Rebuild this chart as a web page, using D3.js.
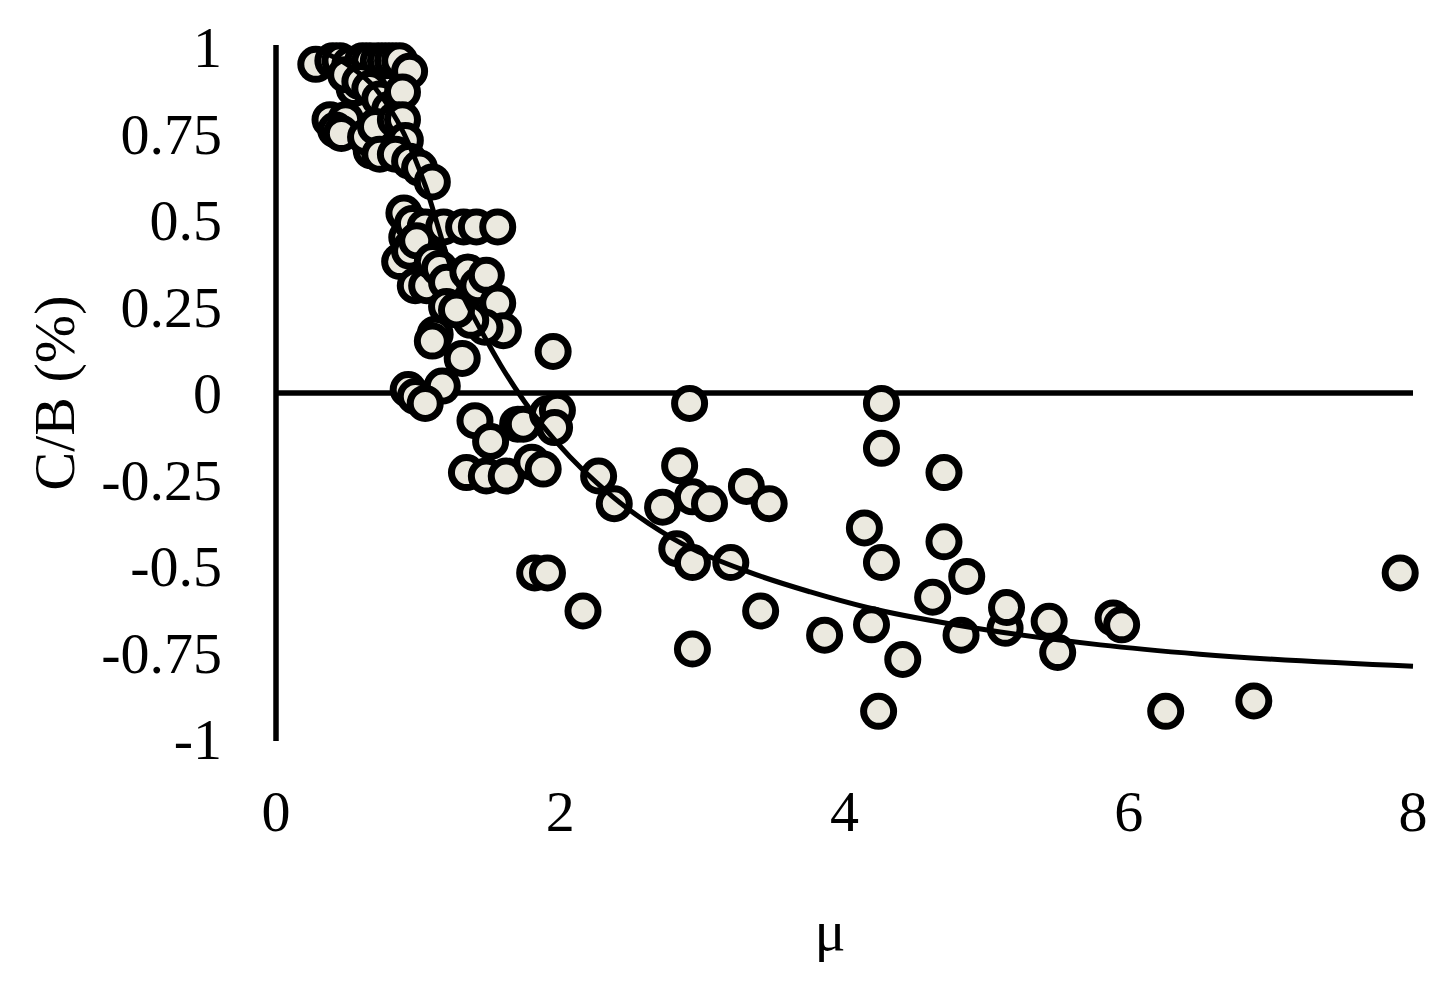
<!DOCTYPE html>
<html>
<head>
<meta charset="utf-8">
<script src="https://cdn.jsdelivr.net/npm/d3@7"></script>
<style>
  html, body { margin: 0; padding: 0; background: #fff; }
  svg { display: block; }
  text { font-family: "Liberation Serif", "Times New Roman", serif; fill: #000; }
</style>
</head>
<body>
<script>
// ---- data ----
const xTicks = [0, 2, 4, 6, 8];
const yTicks = [1, 0.75, 0.5, 0.25, 0, -0.25, -0.5, -0.75, -1];
const yTickLabels = ["1", "0.75", "0.5", "0.25", "0", "-0.25", "-0.5", "-0.75", "-1"];
const xTitle = "μ";
const yTitle = "C/B (%)";

const pointsMu = [
  0.55, 0.62, 0.68, 0.75, 0.78, 0.70, 0.60, 0.55, 0.80, 0.85, 0.67, 0.75,
  0.90, 0.92, 0.95, 1.02, 1.08,
  0.28, 0.40, 0.45, 0.52, 0.61, 0.66, 0.72, 0.77, 0.82, 0.87, 0.94,
  0.49, 0.59, 0.66, 0.73, 0.80, 0.89, 0.38, 0.49, 0.42, 0.46, 0.63, 0.70, 0.84, 0.89, 0.91,
  0.73, 0.84, 0.94, 1.01, 1.10,
  0.87, 0.94, 0.96, 1.05, 1.18, 1.32, 1.41, 1.56, 0.99, 0.98, 1.06, 1.10, 1.15, 1.20,
  1.35, 1.42, 1.48, 1.56, 1.60, 1.47, 1.37, 1.20, 1.27, 1.12, 1.10, 1.31, 1.17, 0.93, 0.98, 1.05,
  1.40, 1.51, 1.70, 1.74, 1.91, 1.98, 1.96, 1.95, 1.34, 1.48, 1.62, 1.80, 1.88, 1.82, 1.91,
  2.16, 2.27, 2.38, 2.91, 2.84, 2.72, 2.93, 3.05, 3.31, 3.47, 2.82, 2.93, 3.20, 3.41, 2.93,
  3.86, 4.14, 4.19, 4.24, 4.26, 4.26, 4.26, 4.41, 4.62, 4.70, 4.70, 4.82, 4.86,
  5.13, 5.14, 5.44, 5.50, 5.89, 5.95, 6.26, 6.88, 7.91
];
const pointsCB = [
  0.93, 0.91, 0.86, 0.83, 0.80, 0.80, 0.84, 0.88, 0.72, 0.70, 0.70, 0.74,
  0.52, 0.45, 0.42, 0.42, 0.40,
  0.95, 0.96, 0.96, 0.95, 0.96, 0.96, 0.96, 0.96, 0.96, 0.96, 0.93,
  0.92, 0.90, 0.88, 0.85, 0.82, 0.87, 0.79, 0.79, 0.76, 0.75, 0.74, 0.77, 0.79, 0.79, 0.73,
  0.69, 0.69, 0.67, 0.65, 0.61,
  0.38, 0.41, 0.49, 0.48, 0.48, 0.48, 0.48, 0.48, 0.44, 0.31, 0.31, 0.38, 0.36, 0.32,
  0.35, 0.31, 0.34, 0.26, 0.18, 0.19, 0.21, 0.25, 0.24, 0.17, 0.15, 0.10, 0.02, 0.01, -0.01, -0.03,
  -0.08, -0.14, -0.09, -0.09, -0.06, -0.05, -0.10, 0.12, -0.23, -0.24, -0.24, -0.20, -0.22, -0.52, -0.52,
  -0.63, -0.24, -0.32, -0.03, -0.21, -0.33, -0.30, -0.32, -0.27, -0.32, -0.45, -0.49, -0.49, -0.63, -0.74,
  -0.70, -0.39, -0.67, -0.92, -0.03, -0.16, -0.49, -0.77, -0.59, -0.43, -0.23, -0.70, -0.53,
  -0.68, -0.62, -0.66, -0.75, -0.65, -0.67, -0.92, -0.89, -0.52
];

const curveMu = [0.30, 0.50, 0.70, 0.90, 1.05, 1.22, 1.48, 1.58, 1.75, 1.98, 2.37, 2.79, 3.31, 3.76, 4.16, 4.81, 5.80, 6.50, 8.00];
const curveCB = [0.99, 0.95, 0.88, 0.75, 0.60, 0.376, 0.153, 0.081, -0.026, -0.145, -0.30, -0.42, -0.515, -0.575, -0.62, -0.672, -0.728, -0.755, -0.79];

// ---- drawing ----
const W = 1453, H = 992;
const svg = d3.select("body").append("svg").attr("width", W).attr("height", H);

const x = d3.scaleLinear().domain([0, 8]).range([276, 1413]);
const y = d3.scaleLinear().domain([-1, 1]).range([739, 47]);

const fontSize = 58;

// y axis line
svg.append("line")
  .attr("x1", x(0)).attr("x2", x(0))
  .attr("y1", y(1) - 2).attr("y2", y(-1) + 2)
  .attr("stroke", "#000").attr("stroke-width", 5.5);

// y tick labels
svg.append("g").selectAll("text").data(yTicks).join("text")
  .attr("x", 222)
  .attr("y", d => y(d))
  .attr("dy", "0.35em")
  .attr("text-anchor", "end")
  .attr("font-size", fontSize)
  .text((d, i) => yTickLabels[i]);

// x tick labels
svg.append("g").selectAll("text").data(xTicks).join("text")
  .attr("x", d => x(d))
  .attr("y", 831)
  .attr("text-anchor", "middle")
  .attr("font-size", fontSize)
  .text(d => d);

// zero line (x axis)
svg.append("line")
  .attr("x1", x(0)).attr("x2", x(8))
  .attr("y1", y(0)).attr("y2", y(0))
  .attr("stroke", "#000").attr("stroke-width", 5.5);

// points
const pts = pointsMu.map((m, i) => ({ mu: m, cb: pointsCB[i] }));
svg.append("g").selectAll("circle").data(pts).join("circle")
  .attr("cx", d => x(d.mu))
  .attr("cy", d => y(d.cb))
  .attr("r", 15)
  .attr("fill", "#ebe9df")
  .attr("stroke", "#000")
  .attr("stroke-width", 7);

// fitted curve
const curvePts = curveMu.map((m, i) => [m, curveCB[i]]);
svg.append("path")
  .datum(curvePts)
  .attr("fill", "none")
  .attr("stroke", "#000")
  .attr("stroke-width", 5)
  .attr("d", d3.line().x(d => x(d[0])).y(d => y(d[1])).curve(d3.curveMonotoneX));

// axis titles
svg.append("text")
  .attr("x", 830).attr("y", 950)
  .attr("text-anchor", "middle")
  .attr("font-size", fontSize)
  .text(xTitle);

svg.append("text")
  .attr("transform", "translate(74," + y(0) + ") rotate(-90)")
  .attr("text-anchor", "middle")
  .attr("font-size", fontSize)
  .text(yTitle);
</script>
</body>
</html>
